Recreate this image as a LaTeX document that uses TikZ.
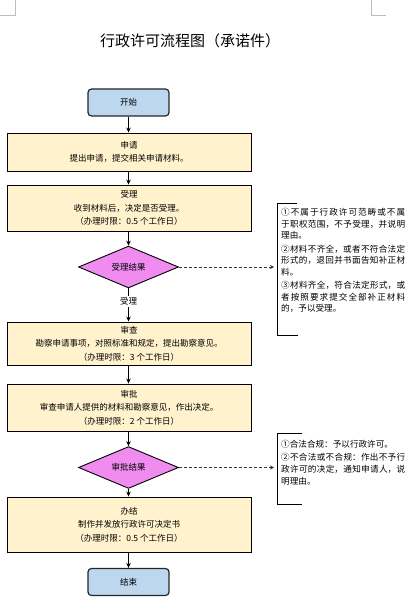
\documentclass[tikz,border=0pt]{standalone}
\usepackage{fontspec}
\setmainfont{Noto Sans CJK SC}
\usetikzlibrary{shapes.geometric,arrows.meta}
\definecolor{boxfill}{HTML}{FFF2CC}
\definecolor{termfill}{HTML}{BDD7EE}
\definecolor{decfill}{RGB}{240,140,240}
\definecolor{markgray}{RGB}{190,190,190}
\tikzset{
  stepbox/.style={draw=black, line width=0.9pt, fill=boxfill, minimum width=244pt, align=center,
    font=\fontsize{8.5}{13.5}\selectfont, inner sep=0pt},
  termbox/.style={draw=black!85, line width=1.2pt, fill=termfill, rounded corners=3.5pt,
    minimum width=81pt, minimum height=27pt, font=\fontsize{8.5}{10}\selectfont, inner sep=0pt},
  decision/.style={diamond, draw=black, line width=0.9pt, fill=decfill, minimum width=100pt,
    minimum height=41pt, inner sep=0pt, font=\fontsize{8.5}{10}\selectfont},
  flow/.style={-{Stealth[length=5pt,width=4.5pt]}, line width=0.8pt, black},
  dashflow/.style={-{Stealth[length=4pt,width=4pt]}, line width=0.8pt, black!80, dash pattern=on 3pt off 2pt},
  bracket/.style={line width=1pt, black},
  notetext/.style={anchor=north west, inner sep=0pt},
  cornermark/.style={line width=0.6pt, markgray}
}
\newcommand{\notepar}[1]{\parbox{124pt}{\fontsize{8.6}{11.6}\selectfont\XeTeXlinebreaklocale "zh"\XeTeXlinebreakskip=0pt plus 3pt\parskip=1.8pt\relax #1}}
\begin{document}
\begin{tikzpicture}[x=1pt,y=-1pt]
\useasboundingbox (0,0) rectangle (418,604);
% page corner marks
\draw[cornermark] (15,0) -- (15,15) -- (0,15);
\draw[cornermark] (371,0) -- (371,15) -- (386,15);
% title
\node (title) at (190,41) {\fontsize{15}{18}\selectfont 行政许可流程图（承诺件）};
% main flow
\node[termbox] (start) at (128.5,102.5) {开始};
\node[stepbox, minimum height=38pt] (apply) at (129,152) {申请\\提出申请，提交相关申请材料。};
\node[stepbox, minimum height=46pt] (accept) at (129,208) {受理\\收到材料后，决定是否受理。\\（办理时限：0.5 个工作日）};
\node[decision] (d1) at (128.5,267) {受理结果};
\node[stepbox, minimum height=43pt] (review) at (129,343.5) {审查\\勘察申请事项，对照标准和规定，提出勘察意见。\\（办理时限：3 个工作日）};
\node[stepbox, minimum height=47pt] (approve) at (129,407.5) {审批\\审查申请人提供的材料和勘察意见，作出决定。\\（办理时限：2 个工作日）};
\node[decision] (d2) at (128.5,467.5) {审批结果};
\node[stepbox, minimum height=55pt] (finish) at (129,524.5) {办结\\制作并发放行政许可决定书\\（办理时限：0.5 个工作日）};
\node[termbox] (stop) at (128.5,582) {结束};
% arrows
\draw[flow] (start.south -| 128.5,0) -- (apply.north -| 128.5,0);
\draw[flow] (apply.south -| 128.5,0) -- (accept.north -| 128.5,0);
\draw[flow] (accept.south -| 128.5,0) -- (d1.north);
\draw[flow] (d1.south) -- node[pos=0.4, fill=white, inner sep=1.5pt, font=\fontsize{8.5}{10}\selectfont] (lab1) {受理} (review.north -| 128.5,0);
\draw[flow] (review.south -| 128.5,0) -- (approve.north -| 128.5,0);
\draw[flow] (approve.south -| 128.5,0) -- (d2.north);
\draw[flow] (d2.south) -- (finish.north -| 128.5,0);
\draw[flow] (finish.south -| 128.5,0) -- (stop.north);
% notes
\node[notetext] (n1) at (281,208) {\notepar{①不属于行政许可范畴或不属\linebreak 于职权范围，不予受理，并说明\linebreak 理由。\par ②材料不齐全，或者不符合法定\linebreak 形式的，退回并书面告知补正材\linebreak 料。\par ③材料齐全，符合法定形式，或\linebreak 者按照要求提交全部补正材料\linebreak 的，予以受理。}};
\coordinate (b1t) at (277,203);
\coordinate (b1b) at (277,335);
\draw[bracket] (297,203) -- (b1t) -- (b1b) -- (298,335);
\draw[dashflow] (d1.east) -- ([xshift=-3pt]b1t |- d1.east);
\node[notetext] (n2) at (281,440) {\notepar{①合法合规：予以行政许可。\par ②不合法或不合规：作出不予行\linebreak 政许可的决定，通知申请人，说\linebreak 明理由。}};
\coordinate (b2t) at (277,433);
\coordinate (b2b) at (277,504);
\draw[bracket] (302,433) -- (b2t) -- (b2b) -- (302,504);
\draw[dashflow] (d2.east) -- ([xshift=-3pt]b2t |- d2.east);
\end{tikzpicture}
\end{document}
